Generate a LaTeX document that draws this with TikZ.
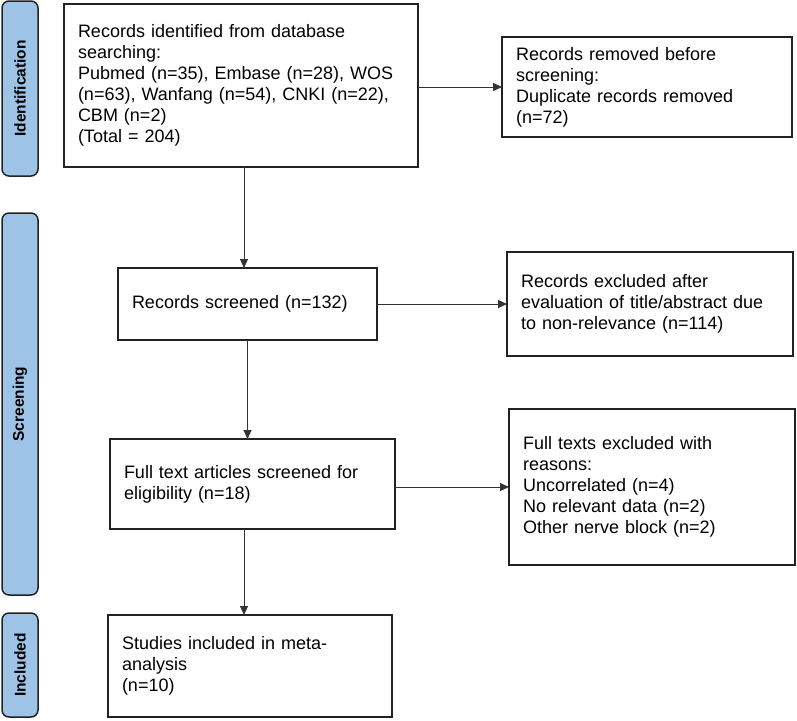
\documentclass[tikz,border=0pt]{standalone}
\usepackage{fontspec}
\setmainfont{Liberation Sans}
\usetikzlibrary{arrows.meta}
\definecolor{sidefill}{HTML}{9DC3E6}
\definecolor{edgecol}{HTML}{222222}
\definecolor{arrcol}{HTML}{333333}
\begin{document}
\begin{tikzpicture}[x=1pt,y=-1pt,
  box/.style={draw=edgecol,line width=1.4pt,fill=white,inner xsep=14pt,inner ysep=0pt,outer sep=0pt,
    align=left,font=\fontsize{18}{21}\selectfont},
  side/.style={draw=edgecol,line width=1.5pt,fill=sidefill,rounded corners=7pt,rotate=90,
    inner sep=0pt,outer sep=0pt,minimum height=36pt,font=\fontsize{15.5}{18}\selectfont\bfseries},
  arr/.style={draw=arrcol,line width=0.9pt,-{Triangle[length=9pt,width=8pt]}}]
\useasboundingbox (0,0) rectangle (797,720);

% phase labels
\node[side,minimum width=175pt] (sid) at (20,88.5) {Identification};
\node[side,minimum width=382pt] (sscr) at (20,404) {Screening};
\node[side,minimum width=104pt] (sinc) at (20,665) {Included};

% boxes
\node[box,text width=326pt,minimum height=163pt] (ident) at (241,85.5)
  {Records identified from database\\searching:\\Pubmed (n=35), Embase (n=28), WOS\\(n=63), Wanfang (n=54), CNKI (n=22),\\CBM (n=2)\\(Total = 204)};
\node[box,text width=262pt,minimum height=100pt] (removed) at (647,87)
  {Records removed before\\screening:\\Duplicate records removed\\(n=72)};
\node[box,text width=231pt,minimum height=72pt] (screened) at (247.5,304)
  {Records screened (n=132)};
\node[box,text width=258pt,minimum height=104pt] (excl1) at (650,304)
  {Records excluded after\\evaluation of title/abstract due\\to non-relevance (n=114)};
\node[box,text width=257pt,minimum height=90pt] (full) at (252.5,484)
  {Full text articles screened for\\eligibility (n=18)};
\node[box,text width=258pt,minimum height=156pt] (excl2) at (652,487)
  {Full texts excluded with\\reasons:\\Uncorrelated (n=4)\\No relevant data (n=2)\\Other nerve block (n=2)};
\node[box,text width=256pt,minimum height=102pt] (incl) at (250,666)
  {Studies included in meta-\\analysis\\(n=10)};

% connectors
\draw[arr] ([xshift=3pt]ident.south) -- ([xshift=3pt]ident.south |- screened.north);
\draw[arr] (removed.west -| ident.east) -- (removed.west);
\draw[arr] (screened.east) -- (excl1.west);
\draw[arr] (screened.south) -- (screened.south |- full.north);
\draw[arr] (excl2.west -| full.east) -- (excl2.west);
\draw[arr] ([xshift=-8.5pt]full.south) -- ([xshift=-8.5pt]full.south |- incl.north);
\end{tikzpicture}
\end{document}
